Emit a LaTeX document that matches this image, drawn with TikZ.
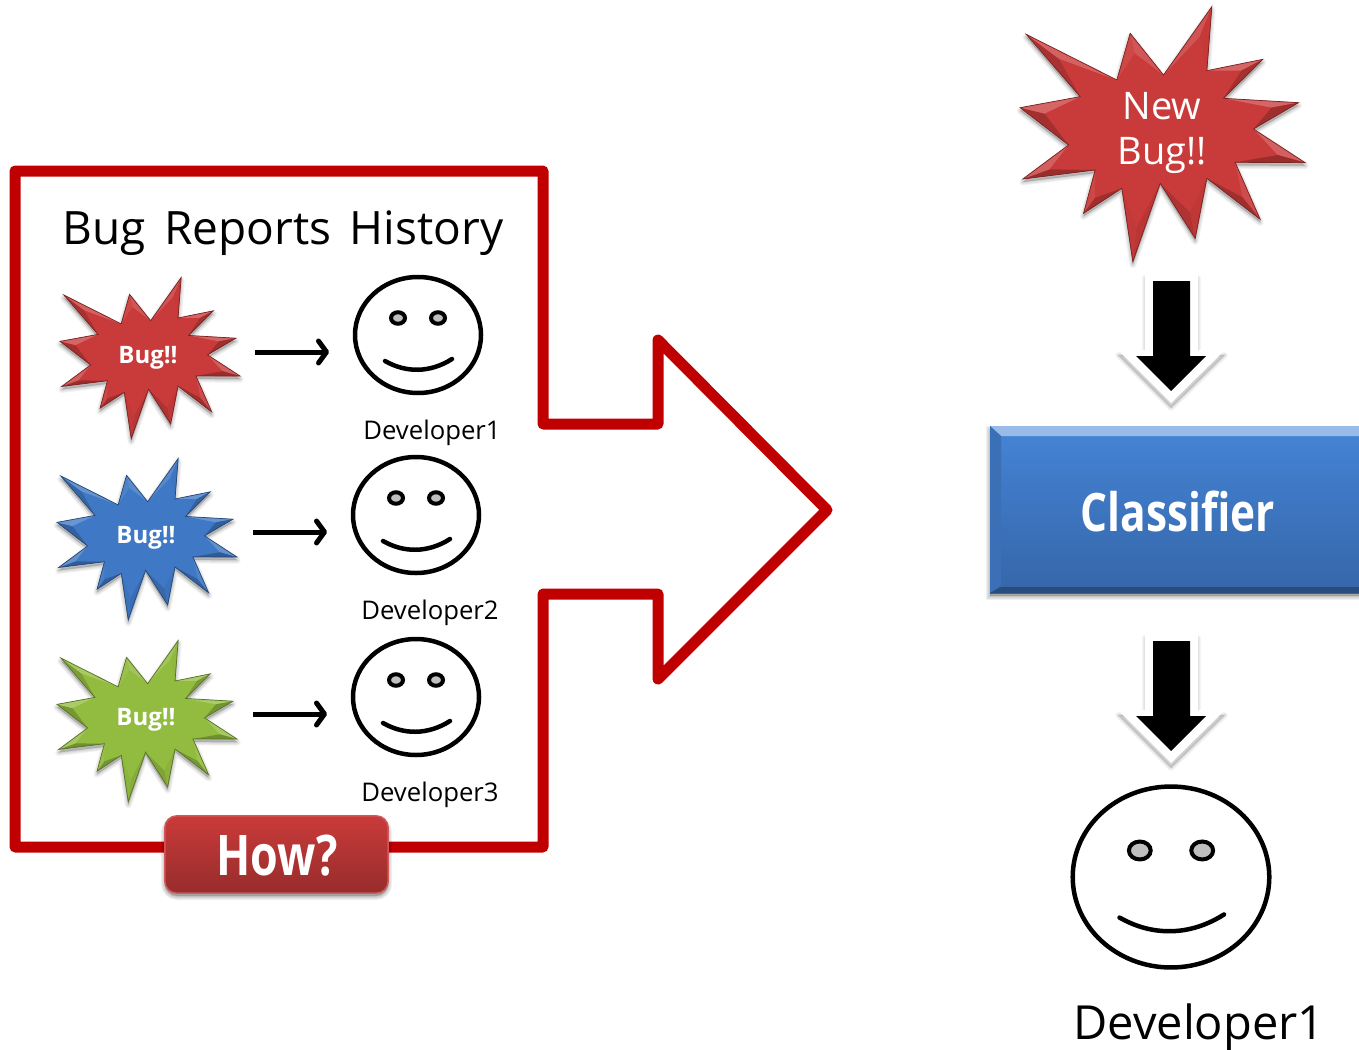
\documentclass[tikz,border=0pt]{standalone}
\usepackage{fontspec}
\setmainfont{Open Sans}
\newfontfamily\narrowbold[FakeStretch=0.8]{Open Sans}
\usetikzlibrary{arrows.meta,shapes.geometric}
\definecolor{framered}{HTML}{C00000}
\definecolor{burstred}{HTML}{C93B3A}
\definecolor{burstblue}{HTML}{3F78C4}
\definecolor{burstgreen}{HTML}{92BC3F}
\definecolor{clstop}{HTML}{4584D6}
\definecolor{clsbot}{HTML}{3566A8}
\newcommand\fs[1]{\fontsize{#1}{#1}\selectfont}
\newcommand\burstoutline{(-409,-299) -- (-137,-162) -- (-97,-302) -- (3,-177) -- (148,-382) -- (133,-190) -- (301,-224) -- (183,-107) -- (408,-94) -- (273,-15) -- (428,86) -- (218,85) -- (293,256) -- (133,133) -- (98,313) -- (-7,148) -- (-89,383) -- (-122,163) -- (-237,238) -- (-202,108) -- (-419,135) -- (-282,33) -- (-427,-79) -- (-247,-112) -- cycle}
% one spike: prev inner / tip / next inner
\newcommand\spikes{-247/-112/-409/-299/-137/-162, -137/-162/-97/-302/3/-177, 3/-177/148/-382/133/-190, 133/-190/301/-224/183/-107, 183/-107/408/-94/273/-15, 273/-15/428/86/218/85, 218/85/293/256/133/133, 133/133/98/313/-7/148, -7/148/-89/383/-122/163, -122/163/-237/238/-202/108, -202/108/-419/135/-282/33, -282/33/-427/-79/-247/-112}
\newcommand\facet[5]{% ax ay bx by colour; triangle a,b,q
  \pgfmathsetmacro\kk{(#3-#1)/veclen(#3-#1,#4-#2)}
  \pgfmathsetmacro\mm{\kk>0?100-22*\kk:100+24*\kk}
  \pgfmathtruncatemacro\mmi{\mm}
  \ifdim\kk pt>0pt
    \fill[#5!\mmi!white] (#1,#2) -- (#3,#4) -- (\qx,\qy) -- cycle;
  \else
    \fill[#5!\mmi!black] (#1,#2) -- (#3,#4) -- (\qx,\qy) -- cycle;
  \fi}
\newcommand\burst[5]{% name cx cy scale colour
  \coordinate (#1) at (#2,#3);
  \pgfmathsetmacro\sc{#4/3}
  \begin{scope}[shift={(#2,#3)},x=\sc pt,y=-\sc pt]
    \foreach \w in {7,5,3,1}{\fill[black,opacity=.05,line width=\w pt,draw=black,draw opacity=.05,line join=round] [yshift=-3pt] \burstoutline;}
    \fill[#5] \burstoutline;
    \foreach \ax/\ay/\tx/\ty/\bx/\by in \spikes {
      \pgfmathsetmacro\qx{.55*\tx+.225*(\ax+\bx)}
      \pgfmathsetmacro\qy{.55*\ty+.225*(\ay+\by)}
      \facet{\ax}{\ay}{\tx}{\ty}{#5}
      \facet{\tx}{\ty}{\bx}{\by}{#5}
    }
    \draw[#5!60!black,line width=.7pt,line join=miter] \burstoutline;
  \end{scope}}
\newcommand\face[4]{% name cx cy scale
  \pgfmathsetmacro\wid{126*#4}\pgfmathsetmacro\hei{116*#4}
  \pgfmathsetmacro\ew{14*#4}\pgfmathsetmacro\eh{11.5*#4}
  \node[facecirc,minimum width=\wid pt,minimum height=\hei pt] (#1) at (#2,#3) {};
  \begin{scope}[shift={(#2,#3)},x=#4 pt,y=-#4 pt]
    \node[faceeye,minimum width=\ew pt,minimum height=\eh pt] (#1l) at (-20,-17) {};
    \node[faceeye,minimum width=\ew pt,minimum height=\eh pt] (#1r) at (20,-17) {};
    \coordinate (#1a) at (-33,26);
    \coordinate (#1b) at (34,24);
    \draw[line width=4.5pt,line cap=round] (#1a) .. controls (-12,38) and (12,38) .. (#1b);
  \end{scope}}
\newcommand\blockarrow[2]{% name dy
  \begin{scope}[yshift=-#2pt]
    \foreach \w in {6,4,2,0.5}{\fill[black,opacity=.04,draw=black,draw opacity=.04,line width=\w pt,line join=round] [yshift=-5pt] (1145,273) -- (1198,273) -- (1198,350) -- (1225,350) -- (1171,403) -- (1118,350) -- (1145,350) -- cycle;}
    \fill[white] (1145,270) -- (1198,270) -- (1198,350) -- (1225,350) -- (1171,403) -- (1118,350) -- (1145,350) -- cycle;
    \fill[black] (1153,281) -- (1190,281) -- (1190,356) -- (1206,356) -- (1171,391) -- (1136,356) -- (1153,356) -- cycle;
    \coordinate (#1) at (1171,391);
  \end{scope}}
\tikzset{
  facecirc/.style={ellipse,draw=black,line width=4.5pt,inner sep=0pt,fill=white},
  faceeye/.style={ellipse,draw=black,line width=4pt,inner sep=0pt,fill=black!25},
  thinarrow/.style={line width=5pt,-{Straight Barb[length=8pt,width=22pt,round]}},
  devlabel/.style={inner sep=0pt,black,font=\fs{25.7}},
  buglabel/.style={inner sep=0pt,white,font=\fs{24}\bfseries},
}
\begin{document}
\begin{tikzpicture}[x=1pt,y=-1pt]
\useasboundingbox (0,0) rectangle (1359,1049);
\clip (0,0) rectangle (1359,1049);
% frame arrow
\draw[framered,line width=11pt,line join=round] (15,171) -- (543,171) -- (543,424) -- (658,424) -- (658,340) -- (827,510) -- (658,679) -- (658,594) -- (543,594) -- (543,847) -- (15,847) -- cycle;
\node[inner sep=0pt,font=\fs{46}] (title) at (283,233) {Bug\hspace{6.5pt} Reports\hspace{6.5pt} History};
% small bursts
\burst{b1}{150}{358}{.632}{burstred}
\burst{b2}{147}{539}{.632}{burstblue}
\burst{b3}{147}{721}{.632}{burstgreen}
\node[buglabel] (b1t) at (148,358) {Bug!!};
\node[buglabel] (b2t) at (146,538) {Bug!!};
\node[buglabel] (b3t) at (146,720) {Bug!!};
% faces
\face{f1}{418}{335}{1}
\face{f2}{416}{515}{1}
\face{f3}{416}{697}{1}
\node[devlabel] (d1) at (432,433) {Developer1};
\node[devlabel] (d2) at (430,613) {Developer2};
\node[devlabel] (d3) at (430,795) {Developer3};
% thin arrows
\coordinate (a1s) at (255,352); \coordinate (a1e) at (329,352);
\coordinate (a2s) at (253,532); \coordinate (a2e) at (327,532);
\coordinate (a3s) at (253,714); \coordinate (a3e) at (327,714);
\draw[thinarrow] (a1s) -- (a1e);
\draw[thinarrow] (a2s) -- (a2e);
\draw[thinarrow] (a3s) -- (a3e);
% how button
\foreach \w in {8,6,4,2}{\fill[black,opacity=.06,rounded corners=12pt,draw=black,draw opacity=.06,line width=\w pt] (165,820) rectangle (388,896);}
\node[draw=none,inner sep=0pt,minimum width=223pt,minimum height=77pt,rounded corners=12pt,top color=burstred,bottom color=burstred!75!black] (how) at (276.5,854.5) {};
\draw[rounded corners=12pt,line width=1.5pt,burstred!85!white] (how.south west) rectangle (how.north east);
\node[inner sep=0pt,white,font=\narrowbold\fs{56}\bfseries] (howt) at (277,856) {How?};
% new bug
\burst{nb}{1162.5}{134}{1}{burstred}
\node[inner sep=0pt,white,font=\fs{38},align=center] (nbt) at (1162,133) {New\\[7pt]Bug!!};
% classifier
\foreach \w in {8,6,4,2}{\fill[black,opacity=.06,draw=black,draw opacity=.06,line width=\w pt] (990,430) rectangle (1375,596);}
\node[inner sep=0pt,minimum width=390pt,minimum height=167pt,top color=clstop,bottom color=clsbot] (cls) at (1185,509.5) {};
\fill[clstop!55!white] (990,426) -- (1380,426) -- (1380,436) -- (1001,436) -- cycle;
\fill[clstop!85!black] (990,426) -- (1001,436) -- (1001,585) -- (990,593) -- cycle;
\fill[clsbot!75!black] (990,593) -- (1001,587) -- (1380,587) -- (1380,593) -- cycle;
\node[inner sep=0pt,white,font=\narrowbold\fs{53}\bfseries] (clst) at (1178,511) {Classifier};
% block arrows
\blockarrow{ba1}{0}
\blockarrow{ba2}{360}
% big face
\face{f4}{1171}{877}{1.56}
\node[inner sep=0pt,font=\fs{47}] (d4) at (1199,1027) {Developer1};
\end{tikzpicture}
\end{document}
